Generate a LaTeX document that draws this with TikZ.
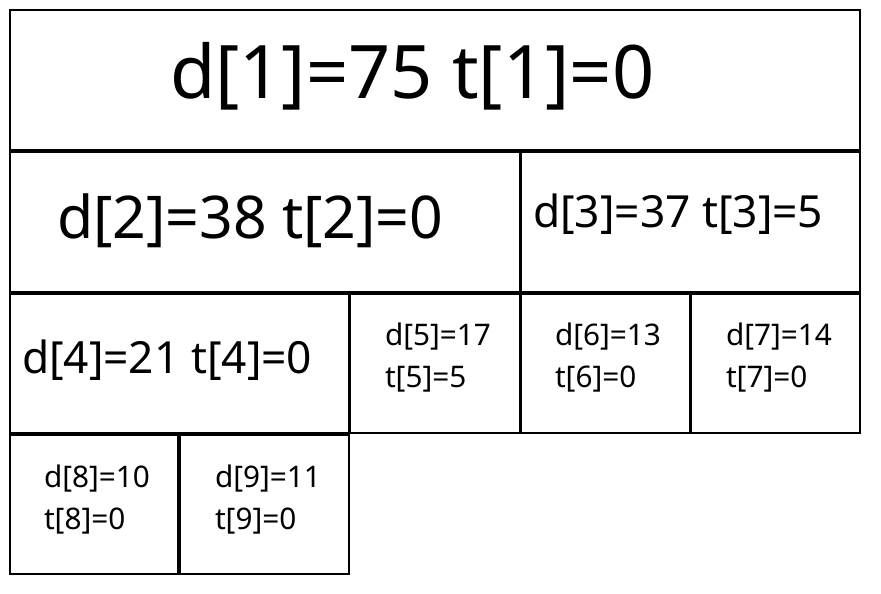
\documentclass[tikz,border=0pt]{standalone}
\usepackage{fontspec}
\setmainfont{Noto Sans}
\begin{document}
\begin{tikzpicture}[x=0.75pt,y=-0.75pt,
  cell/.style={draw=black,line width=1.1pt},
  lbl/.style={anchor=base west,inner sep=0pt,outer sep=0pt},
  huge/.style={lbl,font=\fontsize{55.4}{60}\selectfont},
  big/.style={lbl,font=\fontsize{44.2}{50}\selectfont},
  mid/.style={lbl,font=\fontsize{33.2}{36}\selectfont},
  small/.style={lbl,font=\fontsize{22.3}{31.5}\selectfont,align=left,anchor=north west}]
\useasboundingbox (0,0) rectangle (881,593);
\draw[cell] (10,10) rectangle (860,150);
\draw[cell] (10,152) rectangle (520,292);
\draw[cell] (521,152) rectangle (860,292);
\draw[cell] (10,294) rectangle (349,433);
\draw[cell] (350,294) rectangle (520,433);
\draw[cell] (521,294) rectangle (690,433);
\draw[cell] (691,294) rectangle (860,433);
\draw[cell] (10,435) rectangle (178,574);
\draw[cell] (180,435) rectangle (349,574);
\node[huge] (t1) at (170,98) {d[1]=75 t[1]=0};
\node[big] (t2) at (57,238) {d[2]=38 t[2]=0};
\node[mid] (t3) at (533,227) {d[3]=37 t[3]=5};
\node[mid] (t4) at (22,373) {d[4]=21 t[4]=0};
\node[small] (t5) at (385,323) {d[5]=17\\t[5]=5};
\node[small] (t6) at (555,323) {d[6]=13\\t[6]=0};
\node[small] (t7) at (726,323) {d[7]=14\\t[7]=0};
\node[small] (t8) at (44,465) {d[8]=10\\t[8]=0};
\node[small] (t9) at (215,465) {d[9]=11\\t[9]=0};
\end{tikzpicture}
\end{document}
